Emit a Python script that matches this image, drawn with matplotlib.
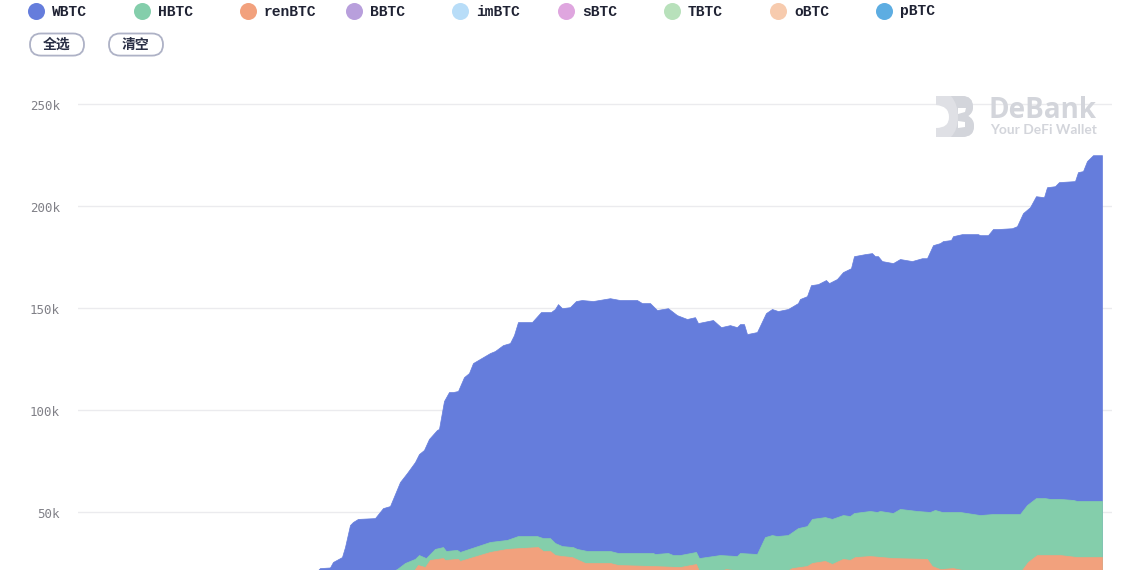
import matplotlib
matplotlib.use('Agg')
import matplotlib.pyplot as plt
from matplotlib.patches import FancyBboxPatch, PathPatch
from matplotlib.path import Path

# tokens shown in the legend
tokens = ['WBTC', 'HBTC', 'renBTC', 'BBTC', 'imBTC', 'sBTC', 'TBTC', 'oBTC', 'pBTC']
token_colors = ['#657ddc', '#84ceab', '#f2a17d', '#b89fdc', '#b8ddf8', '#dfa6df', '#b8e1bb', '#f7cbae', '#5dade2']
buttons = ['全选', '清空']

y_ticks = [50, 100, 150, 200, 250]
y_labels = ['50k', '100k', '150k', '200k', '250k']

# stack tops in thousands of BTC
wbtc_x = [240, 242, 252, 255, 264, 267, 272, 275, 280, 297, 305, 312, 322, 329, 337, 341, 346, 351,
          359, 361, 366, 371, 375, 380, 386, 391, 395, 412, 417, 425, 432, 436, 440, 454, 463, 473,
          477, 480, 484, 492, 498, 504, 515, 532, 542, 559, 564, 572, 579, 590, 599, 609, 617, 620,
          635, 643, 652, 659, 662, 666, 669, 679, 688, 694, 700, 710, 720, 722, 729, 733, 740, 748,
          751, 759, 765, 773, 776, 787, 794, 797, 800, 804, 815, 822, 834, 844, 849, 855, 862, 865,
          873, 875, 884, 900, 902, 910, 915, 920, 934, 939, 945, 952, 958, 966, 969, 977, 981, 997,
          1000, 1005, 1009, 1015, 1024]
wbtc_top = [21.5, 22.5, 22.8, 25.5, 27.9, 32.8, 43.6, 45.1, 46.6, 47.0, 51.9, 52.9, 64.7, 69.1, 74.5, 78.4, 80.4, 85.8,
            90.2, 90.7, 104.4, 108.8, 108.8, 109.3, 116.1, 118.1, 123.0, 127.9, 128.9, 131.8, 132.8, 136.7, 143.1, 143.1, 148.0, 148.0,
            149.5, 151.9, 149.9, 150.4, 153.4, 153.9, 153.4, 154.8, 153.9, 153.9, 152.4, 152.4, 149.0, 149.9, 146.5, 144.6, 145.5, 142.6,
            144.1, 140.6, 141.6, 140.6, 142.1, 142.1, 137.2, 138.2, 147.5, 149.5, 148.5, 149.5, 152.4, 154.4, 155.8, 161.2, 161.7, 163.7,
            162.2, 164.2, 167.6, 169.5, 175.4, 176.4, 176.9, 175.4, 175.4, 173.0, 172.0, 174.0, 173.0, 174.4, 174.4, 180.8, 181.8, 182.8,
            183.3, 185.2, 186.2, 186.2, 185.7, 185.7, 188.7, 188.7, 189.1, 190.1, 196.5, 199.4, 204.8, 204.3, 209.2, 209.7, 211.7, 212.2,
            216.6, 217.1, 222.0, 224.9, 224.9]

hbtc_x = [312, 319, 327, 337, 341, 348, 357, 365, 368, 379, 382, 412, 429, 440, 459, 465, 472, 477, 484, 495, 499, 509,
          532, 540, 575, 577, 590, 595, 602, 618, 621, 635, 642, 659, 662, 679, 687, 694, 699, 710, 720, 729, 734, 747, 754,
          765, 772, 776, 792, 799, 802, 815, 822, 839, 852, 857, 864, 882, 902, 915, 929, 942, 949, 958, 967, 972, 982, 995, 999, 1024]
hbtc_top = [20.6, 22.0, 25.0, 27.0, 28.9, 27.4, 31.9, 32.8, 30.9, 31.4, 30.4, 35.3, 36.3, 38.2, 38.2, 37.2, 37.2, 34.8, 33.3, 32.8, 31.9, 30.9,
            30.9, 29.9, 29.9, 29.4, 29.9, 28.9, 28.9, 30.4, 27.4, 28.4, 28.9, 28.4, 29.9, 29.4, 37.7, 38.7, 38.2, 38.7, 42.1, 43.1, 46.6, 47.5, 46.6,
            48.5, 48.0, 49.5, 50.5, 50.0, 50.5, 49.5, 51.5, 50.5, 50.0, 51.0, 50.0, 50.0, 48.5, 49.0, 49.0, 49.0, 53.4, 56.8, 56.8, 56.4, 56.4, 55.9, 55.4, 55.4]

ren_x = [334, 337, 340, 347, 352, 365, 367, 380, 382, 412, 429, 442, 460, 465, 472, 477, 484, 494, 507, 532, 540, 575, 602, 618, 621,
         642, 648, 655, 707, 714, 729, 734, 747, 754, 765, 772, 777, 792, 815, 849, 854, 862, 875, 889, 937, 944, 950, 959, 982, 999, 1024]
ren_top = [19.0, 22.0, 24.0, 23.0, 26.5, 27.4, 26.5, 27.0, 26.0, 30.4, 31.9, 32.3, 32.8, 30.9, 30.9, 28.9, 28.4, 27.9, 25.0, 25.0, 24.0, 23.5, 23.0, 24.5, 21.1,
           21.1, 22.0, 21.6, 20.6, 22.5, 23.5, 25.0, 26.0, 24.5, 27.0, 26.5, 27.9, 28.4, 27.4, 27.0, 23.5, 22.0, 22.5, 21.1, 20.6, 21.6, 25.5, 28.9, 28.9, 27.9, 27.9]

W, H = 1140, 570

fig = plt.figure(figsize=(W / 100, H / 100), dpi=100, facecolor='white')

# main axes: gridlines run from x=78 to x=1112, the picture cuts the chart off at about 21.5k
ax = fig.add_axes([78 / W, 0, 1034 / W, (570 - 94) / H])
ax.set_xlim(0, 1034)
ax.set_ylim(21.56, 254.9)
for s in ax.spines.values():
    s.set_visible(False)
ax.set_xticks([])
ax.set_yticks(y_ticks)
ax.set_yticklabels([])
ax.tick_params(length=0)
ax.grid(axis='y', color='#ebebee', linewidth=1.0)
ax.set_axisbelow(True)

floor = 0
ax.fill_between(wbtc_x, wbtc_top, floor, color=token_colors[0], linewidth=0.5, zorder=2)
ax.fill_between(hbtc_x, hbtc_top, floor, color=token_colors[1], linewidth=0.5, zorder=3)
ax.fill_between(ren_x, ren_top, floor, color=token_colors[2], linewidth=0.5, zorder=4)

# overlay in pixel coordinates for tick labels, legend, buttons, watermark
ov = fig.add_axes([0, 0, 1, 1], facecolor='none')
ov.set_xlim(0, W)
ov.set_ylim(H, 0)
ov.axis('off')

for val, lab in zip(y_ticks, y_labels):
    py = 614 - val * 2.04
    ov.text(60, py + 2, lab, ha='right', va='center', family='DejaVu Sans Mono', fontsize=9.0, color='#808087')

for i, name in enumerate(tokens):
    x0 = 36 + i * 106
    ov.scatter([x0], [10.5], s=150, color=token_colors[i], linewidths=0)
    ov.text(x0 + 16, 11.5, name, ha='left', va='center', family='Liberation Mono', fontweight='bold',
            fontsize=10.5, color='#1f2233')

for i, label in enumerate(buttons):
    bx = 30 + i * 79
    ov.add_patch(FancyBboxPatch((bx + 11, 33.5 + 11), 32, 0.1, boxstyle='round,pad=11,rounding_size=11',
                                facecolor='white', edgecolor='#aeb2c6', linewidth=1.3))
    ov.text(bx + 27, 45, label, ha='center', va='center', family='Noto Sans CJK SC', fontweight='bold',
            fontsize=10, color='#2a2f45')

# DeBank watermark: solid B with a concave left side and two small counters
logo_light = '#dfe0e5'
logo_dark = '#d3d5db'
MV, LN, C3, CL = Path.MOVETO, Path.LINETO, Path.CURVE3, Path.CLOSEPOLY
outer = Path([(936, 96), (962, 96), (973, 96), (973, 107), (973, 113), (968, 116), (974, 119), (974, 126), (974, 137), (962, 137),
              (936, 137), (936, 128), (949, 128), (949, 117), (949, 106), (936, 105), (936, 96)],
             [MV, LN, C3, C3, C3, C3, C3, C3, C3, C3, LN, LN, C3, C3, C3, LN, CL])
shade = Path([(951, 96), (962, 96), (973, 96), (973, 107), (973, 113), (968, 116), (974, 119), (974, 126), (974, 137), (962, 137),
              (951, 137), (958, 130), (958, 117), (958, 104), (951, 96)],
             [MV, LN, C3, C3, C3, C3, C3, C3, C3, C3, LN, C3, C3, C3, CL])
ov.add_patch(PathPatch(outer, facecolor=logo_light, edgecolor='none'))
ov.add_patch(PathPatch(shade, facecolor=logo_dark, edgecolor='none'))
for counter in ([(958, 108), (966, 108), (965, 112), (958, 114), (958, 108)],
                [(958, 121), (965, 122), (965, 127), (958, 128), (958, 121)]):
    ov.add_patch(PathPatch(Path(counter), facecolor='white', edgecolor='none'))
ov.text(988.5, 111, 'DeBank', ha='left', va='center', family='Open Sans', fontweight='bold', fontsize=20, color=logo_dark)
ov.text(990, 130, 'Your DeFi Wallet', ha='left', va='center', family='Lato', fontweight='bold', fontsize=9.9, color=logo_dark)

fig.savefig('out.png', dpi=100)
